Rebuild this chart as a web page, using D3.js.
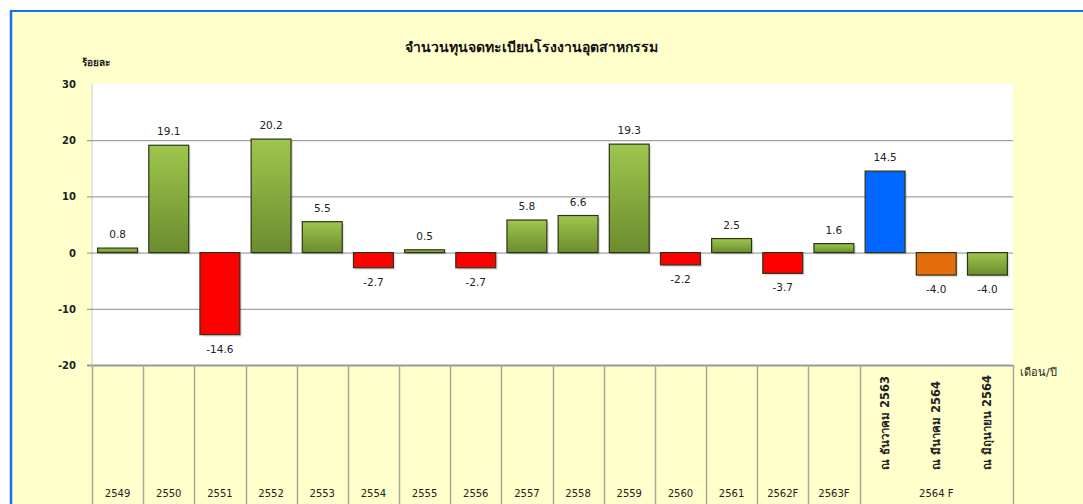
<!DOCTYPE html>
<html>
<head>
<meta charset="utf-8">
<script src="https://cdn.jsdelivr.net/npm/d3@7"></script>
<style>
  body { margin: 0; background: #fff; }
  svg text { font-family: Tahoma, "DejaVu Sans", "Noto Sans", sans-serif; }
</style>
</head>
<body>
<div id="chart"></div>
<script>
// data
var categories = ["2549", "2550", "2551", "2552", "2553", "2554", "2555", "2556", "2557",
                  "2558", "2559", "2560", "2561", "2562F", "2563F", "d63", "m64", "j64"];
var values = [0.8, 19.1, -14.6, 20.2, 5.5, -2.7, 0.5, -2.7, 5.8, 6.6, 19.3, -2.2, 2.5, -3.7, 1.6, 14.5, -4.0, -4.0];
var barKinds = ["g", "g", "r", "g", "g", "r", "g", "r", "g", "g", "g", "r", "g", "r", "g", "b", "o", "g"];
var monthLabels = ["ณ ธันวาคม 2563", "ณ มีนาคม 2564", "ณ มิถุนายน 2564"];
var yTicks = [30, 20, 10, 0, -10, -20];

(function() {

  var W = 1083, H = 504;
  var pLeft = 92, pRight = 1013, pTop = 84, pBottom = 365;

  var svg = d3.select("#chart").append("svg")
    .attr("width", W)
    .attr("height", H);

  var defs = svg.append("defs");
  var grad = defs.append("linearGradient")
    .attr("id", "greenGrad")
    .attr("x1", 0).attr("y1", 0).attr("x2", 0).attr("y2", 1);
  grad.append("stop").attr("offset", "0%").attr("stop-color", "#9ec64d");
  grad.append("stop").attr("offset", "100%").attr("stop-color", "#6b8c2e");

  var fills = { g: "url(#greenGrad)", r: "#ff0000", b: "#0066ff", o: "#e46c0a" };

  // background + blue frame
  svg.append("rect").attr("x", 10).attr("y", 11).attr("width", W - 10).attr("height", H - 11)
    .attr("fill", "#ffffcc");
  svg.append("line").attr("x1", 11).attr("x2", 11).attr("y1", 10).attr("y2", H)
    .attr("stroke", "#1a6cf5").attr("stroke-width", 2.5);
  svg.append("line").attr("x1", 10).attr("x2", W).attr("y1", 11).attr("y2", 11)
    .attr("stroke", "#1a6cf5").attr("stroke-width", 2);

  var x = d3.scaleBand()
    .domain(categories)
    .range([pLeft, pRight])
    .paddingInner(0.22)
    .paddingOuter(0.11);

  var y = d3.scaleLinear()
    .domain([-20, 30])
    .range([pBottom, pTop]);

  // plot area
  svg.append("rect").attr("x", pLeft).attr("y", pTop)
    .attr("width", pRight - pLeft).attr("height", pBottom - pTop)
    .attr("fill", "#fff");
  svg.append("line").attr("x1", pLeft).attr("x2", pLeft).attr("y1", pTop).attr("y2", pBottom)
    .attr("stroke", "#ddd").attr("stroke-width", 1.5);

  // grid lines
  svg.append("g").selectAll("line")
    .data(yTicks.filter(function(d) { return d < 30; }))
    .enter().append("line")
    .attr("x1", pLeft - 5).attr("x2", pRight)
    .attr("y1", function(d) { return y(d) + 0.5; })
    .attr("y2", function(d) { return y(d) + 0.5; })
    .attr("stroke", function(d) { return d === -20 ? "#999" : "#8c8c8c"; })
    .attr("stroke-width", function(d) { return d === -20 ? 2 : 1; });

  // y labels
  svg.append("g").selectAll("text")
    .data(yTicks)
    .enter().append("text")
    .attr("x", 76)
    .attr("y", function(d) { return y(d) + 4; })
    .attr("text-anchor", "end")
    .attr("font-size", 10)
    .attr("font-weight", "bold")
    .attr("fill", "#222")
    .text(function(d) { return d; });

  svg.append("text").attr("x", 82).attr("y", 66)
    .attr("font-size", 10).attr("font-weight", "bold").attr("fill", "#222")
    .text("ร้อยละ");

  svg.append("text").attr("x", 531).attr("y", 52)
    .attr("text-anchor", "middle")
    .attr("font-size", 14).attr("font-weight", "bold").attr("fill", "#111")
    .text("จำนวนทุนจดทะเบียนโรงงานอุตสาหกรรม");

  svg.append("text").attr("x", 1020).attr("y", 376)
    .attr("font-size", 11).attr("fill", "#222")
    .text("เดือน/ปี");

  // bars
  var bars = svg.append("g").selectAll("g")
    .data(values)
    .enter().append("g");

  bars.append("rect")
    .attr("x", function(d, i) { return x(categories[i]) + 2; })
    .attr("y", function(d) { return Math.min(y(d), y(0)) + 2; })
    .attr("width", x.bandwidth())
    .attr("height", function(d) { return Math.abs(y(d) - y(0)); })
    .attr("fill", "#000").attr("opacity", 0.12);

  bars.append("rect")
    .attr("x", function(d, i) { return x(categories[i]); })
    .attr("y", function(d) { return Math.min(y(d), y(0)); })
    .attr("width", x.bandwidth())
    .attr("height", function(d) { return Math.max(1.5, Math.abs(y(d) - y(0))); })
    .attr("fill", function(d, i) { return fills[barKinds[i]]; })
    .attr("stroke", "#2b3318")
    .attr("stroke-width", 1.2);

  bars.append("text")
    .attr("x", function(d, i) { return x(categories[i]) + x.bandwidth() / 2; })
    .attr("y", function(d) { return d >= 0 ? y(d) - 10 : y(d) + 18; })
    .attr("text-anchor", "middle")
    .attr("font-size", 10.5)
    .attr("fill", "#222")
    .text(function(d) { return d.toFixed(1); });

  // category table below
  var bounds = categories.slice(0, 16).map(function(c) { return x(c) - x.step() * x.paddingInner() / 2; });
  bounds.push(pRight);
  svg.append("g").selectAll("line")
    .data(bounds)
    .enter().append("line")
    .attr("x1", function(d) { return Math.round(d) + 0.5; })
    .attr("x2", function(d) { return Math.round(d) + 0.5; })
    .attr("y1", pBottom).attr("y2", H)
    .attr("stroke", "#a8a898").attr("stroke-width", 1.5);

  svg.append("g").selectAll("text")
    .data(categories.slice(0, 15))
    .enter().append("text")
    .attr("x", function(d) { return x(d) + x.bandwidth() / 2; })
    .attr("y", 497)
    .attr("text-anchor", "middle")
    .attr("font-size", 10)
    .attr("fill", "#222")
    .text(function(d) { return d; });

  svg.append("text")
    .attr("x", (bounds[15] + pRight) / 2)
    .attr("y", 497)
    .attr("text-anchor", "middle")
    .attr("font-size", 10).attr("fill", "#222")
    .text("2564 F");

  svg.append("g").selectAll("text")
    .data(monthLabels)
    .enter().append("text")
    .attr("transform", function(d, i) {
      var cx = x(categories[15 + i]) + x.bandwidth() / 2 + 4;
      return "translate(" + cx + ",470) rotate(-90)";
    })
    .attr("font-size", 11.5)
    .attr("font-weight", "bold")
    .attr("fill", "#222")
    .text(function(d) { return d; });

})();
</script>
</body>
</html>
